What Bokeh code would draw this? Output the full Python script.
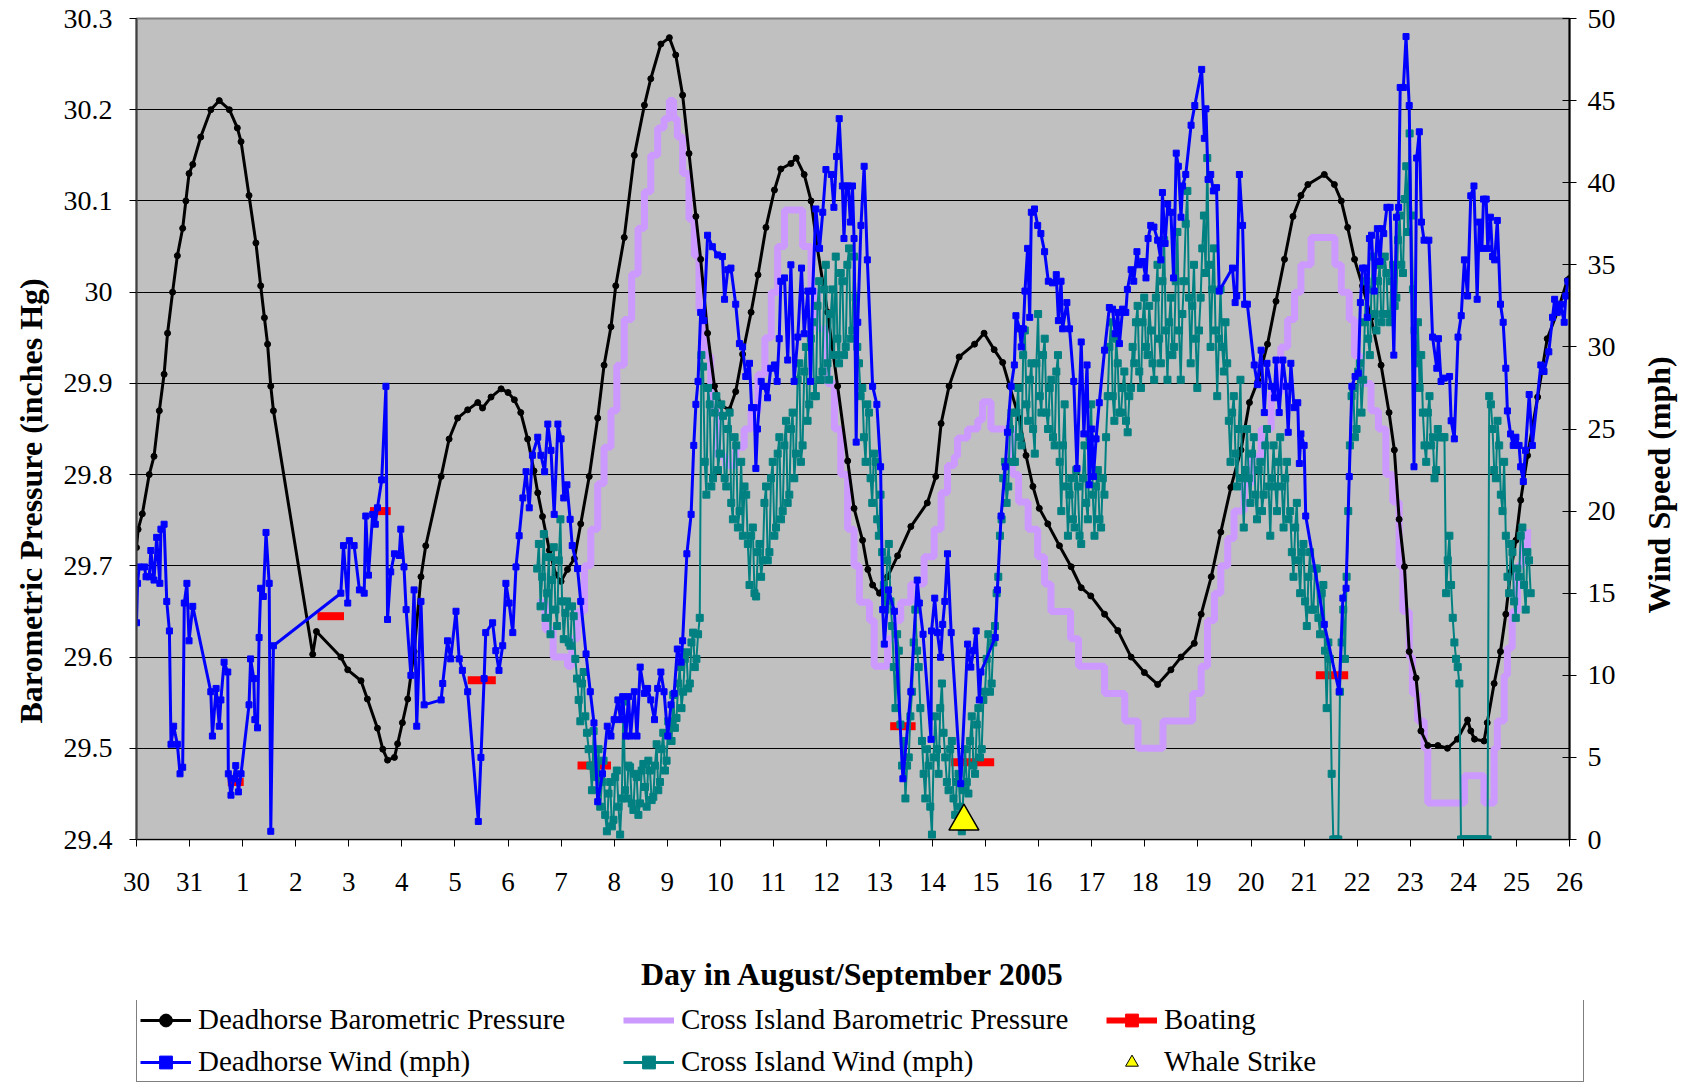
import math
from bokeh.plotting import figure
from bokeh.layouts import column, row
from bokeh.models import (Range1d, LinearAxis, FixedTicker, CustomJSTickFormatter,
                          Legend, LegendItem, Title)
from bokeh.embed import file_html
from bokeh.resources import INLINE

FONT = "Liberation Serif"

# ---------------- tick labels ----------------
day_labels = ["30", "31", "1", "2", "3", "4", "5", "6", "7", "8", "9", "10", "11", "12",
              "13", "14", "15", "16", "17", "18", "19", "20", "21", "22", "23", "24", "25", "26"]
pressure_ticks = [29.4, 29.5, 29.6, 29.7, 29.8, 29.9, 30.0, 30.1, 30.2, 30.3]
wind_ticks = [0, 5, 10, 15, 20, 25, 30, 35, 40, 45, 50]

# ---------------- Deadhorse barometric pressure (inches Hg) ----------------
dh_press_day = [0.00, 0.03, 0.11, 0.24, 0.33, 0.43, 0.52, 0.585, 0.68, 0.77, 0.87, 0.93, 0.99, 1.06,
                1.21, 1.40, 1.56, 1.75, 1.90, 1.97, 2.12, 2.25, 2.34, 2.41, 2.47, 2.53, 2.58, 3.32,
                3.39, 3.85, 3.98, 4.23, 4.35, 4.54, 4.64, 4.73, 4.86, 4.92, 5.01, 5.11, 5.23, 5.36,
                5.45, 5.74, 5.89, 6.05, 6.24, 6.43, 6.52, 6.68, 6.87, 7.00, 7.12, 7.24, 7.37, 7.49,
                7.56, 7.65, 7.78, 7.90, 8.00, 8.12, 8.25, 8.37, 8.53, 8.69, 8.81, 8.94, 9.03, 9.19,
                9.38, 9.57, 9.69, 9.88, 10.04, 10.16, 10.29, 10.41, 10.54, 10.63, 10.76, 10.89,
                11.01, 11.17, 11.29, 11.42, 11.58, 11.71, 11.86, 12.02, 12.14, 12.33, 12.43, 12.58,
                12.71, 12.83, 13.02, 13.21, 13.40, 13.52, 13.68, 13.78, 13.87, 14.00, 14.15, 14.34,
                14.59, 14.90, 15.06, 15.16, 15.31, 15.50, 15.79, 15.97, 16.16, 16.32, 16.45, 16.63,
                16.76, 16.89, 17.01, 17.17, 17.39, 17.61, 17.80, 17.98, 18.24, 18.49, 18.74, 18.99,
                19.24, 19.49, 19.68, 19.93, 20.06, 20.25, 20.43, 20.62, 20.81, 20.97, 21.13, 21.31,
                21.47, 21.63, 21.79, 21.94, 22.07, 22.38, 22.57, 22.70, 22.82, 22.95, 23.10, 23.26,
                23.45, 23.60, 23.70, 23.79, 23.89, 23.98, 24.11, 24.20, 24.33, 24.52, 24.70, 24.89,
                25.08, 25.14, 25.21, 25.39, 25.45, 25.58, 25.70, 25.80, 25.89, 25.99, 26.08, 26.21,
                26.40, 26.58, 26.77, 26.96, 27.00]
dh_press_inhg = [29.720, 29.740, 29.757, 29.800, 29.820, 29.870, 29.910, 29.955, 30.000, 30.040, 30.070,
                 30.100, 30.130, 30.140, 30.170, 30.200, 30.210, 30.200, 30.180, 30.165, 30.106, 30.054,
                 30.007, 29.972, 29.943, 29.897, 29.870, 29.603, 29.628, 29.600, 29.586, 29.574, 29.554,
                 29.522, 29.499, 29.487, 29.490, 29.505, 29.528, 29.554, 29.606, 29.688, 29.722, 29.798,
                 29.839, 29.862, 29.871, 29.879, 29.873, 29.885, 29.894, 29.890, 29.882, 29.868, 29.839,
                 29.804, 29.780, 29.754, 29.717, 29.690, 29.683, 29.696, 29.708, 29.746, 29.798, 29.862,
                 29.920, 29.962, 30.007, 30.060, 30.150, 30.205, 30.234, 30.272, 30.279, 30.260, 30.216,
                 30.152, 30.083, 30.036, 29.955, 29.897, 29.876, 29.871, 29.891, 29.932, 29.978, 30.019,
                 30.071, 30.112, 30.135, 30.141, 30.147, 30.129, 30.100, 30.048, 29.978, 29.897, 29.815,
                 29.763, 29.728, 29.696, 29.679, 29.670, 29.688, 29.711, 29.743, 29.769, 29.798, 29.856,
                 29.897, 29.929, 29.943, 29.955, 29.937, 29.923, 29.897, 29.862, 29.821, 29.787, 29.763,
                 29.746, 29.722, 29.699, 29.676, 29.667, 29.647, 29.629, 29.600, 29.583, 29.570, 29.586,
                 29.600, 29.615, 29.647, 29.688, 29.737, 29.786, 29.827, 29.879, 29.903, 29.943, 29.990,
                 30.036, 30.083, 30.106, 30.118, 30.129, 30.118, 30.100, 30.071, 30.036, 30.007, 29.972,
                 29.920, 29.868, 29.827, 29.751, 29.699, 29.606, 29.577, 29.519, 29.503, 29.503, 29.500,
                 29.510, 29.531, 29.519, 29.510, 29.508, 29.528, 29.571, 29.606, 29.647, 29.693, 29.728,
                 29.772, 29.821, 29.885, 29.949, 29.978, 30.013, 30.015]

# ---------------- Cross Island barometric pressure (inches Hg) ----------------
ci_press_day = [7.56, 7.70, 7.85, 8.12, 8.20, 8.31, 8.44, 8.56, 8.69, 8.81, 8.94, 9.05, 9.19, 9.33,
                9.45, 9.57, 9.69, 9.82, 9.94, 10.04, 10.12, 10.19, 10.29, 10.41, 10.51, 10.60, 10.70,
                10.82, 10.95, 11.10, 11.29, 11.45, 11.58, 11.71, 11.84, 11.96, 12.08, 12.21, 12.55,
                12.71, 12.83, 13.02, 13.15, 13.27, 13.40, 13.52, 13.62, 13.81, 13.90, 14.15, 14.28,
                14.40, 14.59, 14.84, 15.03, 15.16, 15.28, 15.41, 15.47, 15.66, 15.85, 15.94, 16.10,
                16.50, 16.62, 16.80, 16.98, 17.11, 17.23, 17.60, 17.75, 18.24, 18.62, 18.87, 19.34,
                19.90, 20.06, 20.18, 20.31, 20.43, 20.56, 20.68, 20.87, 21.00, 21.19, 21.38, 21.56,
                21.69, 21.82, 21.94, 22.13, 22.58, 22.70, 22.85, 22.95, 23.07, 23.26, 23.40, 23.54,
                23.67, 23.79, 23.86, 23.98, 24.04, 24.14, 24.26, 24.33, 25.02, 25.39, 25.58, 25.64,
                25.77, 25.83, 25.92, 26.02, 26.11, 26.21]
ci_press_inhg = [29.66, 29.63, 29.60, 29.59, 29.62, 29.65, 29.70, 29.74, 29.79, 29.83, 29.87, 29.92,
                 29.97, 30.02, 30.07, 30.11, 30.15, 30.18, 30.19, 30.21, 30.19, 30.17, 30.13, 30.08,
                 30.04, 29.98, 29.93, 29.87, 29.82, 29.81, 29.83, 29.85, 29.87, 29.91, 29.95, 30.00,
                 30.05, 30.09, 30.05, 30.00, 29.96, 29.90, 29.85, 29.80, 29.74, 29.70, 29.66, 29.64,
                 29.59, 29.62, 29.64, 29.66, 29.68, 29.71, 29.74, 29.78, 29.81, 29.82, 29.84, 29.85,
                 29.86, 29.88, 29.85, 29.80, 29.77, 29.74, 29.71, 29.68, 29.65, 29.62, 29.59, 29.56,
                 29.53, 29.50, 29.53, 29.56, 29.59, 29.64, 29.67, 29.70, 29.73, 29.76, 29.79, 29.82,
                 29.85, 29.89, 29.94, 29.97, 30.00, 30.03, 30.06, 30.03, 30.00, 29.97, 29.93, 29.90,
                 29.87, 29.85, 29.80, 29.77, 29.70, 29.65, 29.60, 29.56, 29.53, 29.50, 29.44, 29.47,
                 29.44, 29.50, 29.53, 29.58, 29.61, 29.65, 29.70, 29.72, 29.74]

# ---------------- Deadhorse wind (mph) ----------------
dh_wind_day = [0.00, 0.02, 0.05, 0.15, 0.18, 0.24, 0.27, 0.33, 0.38, 0.44, 0.46, 0.52, 0.57, 0.62,
               0.65, 0.70, 0.77, 0.82, 0.87, 0.90, 0.95, 0.99, 1.06, 1.40, 1.43, 1.50, 1.56, 1.59,
               1.65, 1.72, 1.73, 1.78, 1.83, 1.87, 1.92, 1.97, 2.12, 2.15, 2.21, 2.23, 2.28, 2.31,
               2.34, 2.39, 2.44, 2.50, 2.53, 2.58, 3.85, 3.90, 3.98, 4.01, 4.10, 4.20, 4.29, 4.32,
               4.37, 4.45, 4.50, 4.54, 4.62, 4.70, 4.73, 4.79, 4.86, 4.95, 4.98, 5.04, 5.08, 5.17,
               5.23, 5.28, 5.36, 5.42, 5.74, 5.77, 5.86, 5.92, 6.02, 6.08, 6.14, 6.24, 6.44, 6.49,
               6.55, 6.58, 6.71, 6.77, 6.83, 6.90, 6.96, 7.02, 7.09, 7.15, 7.21, 7.28, 7.34, 7.40,
               7.46, 7.56, 7.62, 7.69, 7.75, 7.81, 7.87, 7.94, 8.00, 8.05, 8.11, 8.17, 8.21, 8.31,
               8.37, 8.47, 8.55, 8.62, 8.69, 8.78, 8.87, 8.94, 9.00, 9.07, 9.12, 9.16, 9.22, 9.27,
               9.31, 9.38, 9.43, 9.49, 9.57, 9.63, 9.69, 9.76, 9.82, 9.88, 9.94, 10.01, 10.07, 10.13,
               10.19, 10.26, 10.29, 10.37, 10.45, 10.50, 10.54, 10.58, 10.63, 10.69, 10.76, 10.85,
               10.95, 11.04, 11.08, 11.14, 11.20, 11.29, 11.36, 11.42, 11.48, 11.55, 11.59, 11.64,
               11.67, 11.70, 11.77, 11.83, 11.89, 11.95, 12.02, 12.07, 12.11, 12.14, 12.21, 12.27,
               12.33, 12.39, 12.46, 12.53, 12.58, 12.65, 12.70, 12.74, 12.80, 12.87, 12.93, 12.99,
               13.09, 13.14, 13.19, 13.24, 13.30, 13.33, 13.37, 13.41, 13.45, 13.49, 13.52, 13.56,
               13.59, 13.65, 13.71, 13.77, 13.87, 13.95, 14.02, 14.06, 14.09, 14.17, 14.28, 14.44,
               14.59, 14.71, 14.75, 14.82, 14.97, 14.98, 15.04, 15.09, 15.15, 15.19, 15.23, 15.28,
               15.35, 15.53, 15.66, 15.72, 15.77, 15.82, 15.88, 15.91, 16.18, 16.22, 16.29, 16.37,
               16.41, 16.48, 16.54, 16.57, 16.64, 16.67, 16.71, 16.74, 16.79, 16.83, 16.86, 16.92,
               16.98, 17.04, 17.11, 17.18, 17.26, 17.33, 17.37, 17.42, 17.45, 17.53, 17.58, 17.66,
               17.72, 17.80, 17.85, 17.91, 17.95, 18.00, 18.03, 18.08, 18.14, 18.24, 18.33, 18.39,
               18.44, 18.49, 18.52, 18.58, 18.64, 18.67, 18.74, 18.79, 18.85, 18.89, 18.96, 19.02,
               19.06, 19.11, 19.17, 19.24, 19.30, 19.33, 19.38, 19.43, 19.49, 19.54, 19.59, 19.63,
               19.68, 19.71, 19.77, 19.87, 19.94, 20.07, 20.12, 20.15, 20.19, 20.24, 20.29, 20.35,
               20.40, 20.65, 20.70, 20.73, 20.78, 20.84, 20.88, 20.93, 21.06, 21.12, 21.19, 21.25,
               21.30, 21.38, 21.44, 21.47, 21.53, 21.60, 21.66, 21.70, 21.75, 21.81, 21.88, 21.91,
               21.94, 22.00, 22.03, 22.38, 22.66, 22.73, 22.79, 22.85, 22.90, 22.96, 23.02, 23.06,
               23.10, 23.15, 23.19, 23.23, 23.27, 23.32, 23.38, 23.43, 23.47, 23.50, 23.56, 23.62,
               23.69, 23.74, 23.78, 23.81, 23.87, 23.92, 23.98, 24.07, 24.12, 24.17, 24.21, 24.26,
               24.35, 24.42, 24.50, 24.53, 24.58, 24.64, 24.74, 24.77, 24.83, 24.90, 24.96, 25.02,
               25.08, 25.14, 25.20, 25.26, 25.30, 25.35, 25.38, 25.43, 25.46, 25.51, 25.55, 25.59,
               25.64, 25.70, 25.75, 25.80, 25.83, 25.89, 25.94, 25.99, 26.05, 26.08, 26.13, 26.17,
               26.24, 26.30, 26.46, 26.52, 26.61, 26.68, 26.72, 26.77, 26.83, 26.90, 26.93, 26.97]
dh_wind_mph = [13.2, 15.6, 16.6, 16.6, 16.0, 16.0, 17.6, 15.8, 18.4, 15.6, 18.9, 19.2, 14.5, 12.7,
               5.8, 6.9, 5.8, 4.0, 4.4, 14.4, 15.6, 12.1, 14.2, 9.0, 6.3, 9.2, 6.9, 8.5,
               10.8, 10.2, 4.0, 2.7, 3.7, 4.5, 2.9, 4.0, 8.2, 11.0, 9.8, 7.3, 6.8, 12.3,
               15.3, 14.8, 18.7, 15.6, 0.5, 11.8, 15.0, 17.9, 14.4, 18.2, 17.9, 15.2, 15.0, 19.7,
               16.1, 19.8, 19.2, 20.2, 21.9, 27.6, 13.4, 16.3, 17.4, 17.3, 18.9, 16.6, 14.0, 10.0,
               15.2, 6.9, 14.5, 8.2, 8.5, 9.5, 12.1, 11.0, 13.9, 11.0, 10.3, 9.0, 1.1, 5.0,
               9.8, 12.6, 13.2, 11.5, 10.3, 11.8, 15.6, 14.4, 12.6, 16.6, 18.5, 20.8, 22.4, 20.2,
               23.4, 24.5, 23.4, 22.4, 25.3, 23.7, 19.8, 25.3, 24.4, 20.8, 21.6, 19.5, 17.9, 16.5,
               14.5, 11.3, 9.0, 7.1, 2.3, 4.0, 6.9, 6.3, 7.3, 8.5, 7.3, 8.7, 6.3, 8.7,
               6.3, 9.0, 6.3, 10.5, 8.9, 9.2, 8.5, 7.3, 9.2, 10.2, 9.0, 6.3, 8.2, 8.9,
               11.6, 10.8, 12.1, 17.4, 19.8, 24.0, 26.5, 27.9, 32.1, 31.6, 36.8, 36.1,
               35.6, 35.5, 32.9, 34.7, 34.8, 32.6, 30.2, 30.0, 28.2, 29.0, 26.3, 26.3,
               22.6, 25.0, 27.9, 27.6, 26.9, 28.7, 28.9, 27.9, 30.5, 34.0, 34.2, 29.2,
               35.0, 27.9, 30.6, 34.8, 30.8, 33.4, 27.9, 33.4, 38.4, 36.0, 38.2, 40.8,
               40.5, 38.5, 41.6, 43.9, 39.8, 36.6, 39.8, 39.8, 37.6, 39.8, 36.6, 24.2,
               31.5, 37.4, 41.0, 35.3, 27.6, 26.5, 22.7, 14.0, 11.9, 15.2, 13.9, 3.7,
               9.0, 15.8, 14.4, 12.5, 6.1, 12.7, 14.7, 12.6, 11.1, 13.1, 14.5, 17.4,
               12.6, 3.4, 11.9, 10.5, 11.5, 12.7, 8.5, 10.2, 12.3, 15.2, 19.7, 22.7,
               24.8, 27.6, 28.9, 31.9, 31.1, 30.0, 31.1, 33.4, 36.0, 31.8, 38.2, 38.4,
               37.4, 36.9, 35.8, 34.0, 33.9, 34.4, 31.6, 34.0, 31.1, 32.7, 31.1, 27.9,
               22.6, 30.3, 24.7, 28.9, 21.6, 25.0, 22.1, 24.4, 26.6, 29.8, 32.4, 32.3,
               30.8, 32.1, 30.2, 32.3, 32.1, 33.5, 34.7, 34.0, 35.8, 35.0, 35.2, 34.2,
               36.6, 37.4, 37.3, 36.5, 35.3, 39.4, 36.3, 38.7, 38.2, 34.2, 41.8, 41.0,
               37.9, 39.8, 40.5, 43.5, 44.7, 46.9, 42.7, 44.5, 40.2, 40.5, 39.5, 39.7,
               33.4, 34.8, 32.7, 33.1, 40.5, 37.4, 32.6, 32.6, 28.9, 27.7, 29.8, 26.0,
               29.0, 27.6, 26.9, 29.2, 26.0, 29.2, 27.6, 24.8, 29.0, 26.3, 26.6, 22.9,
               24.7, 24.0, 19.7, 13.1, 9.0, 14.7, 15.3, 22.1, 27.6, 28.2, 28.4, 32.7,
               34.8, 34.8, 31.8, 36.6, 36.8, 33.4, 37.2, 35.2, 37.2, 36.9, 38.5, 38.5,
               29.5, 37.9, 38.5, 45.8, 45.8, 48.9, 44.7, 22.7, 41.5, 43.1, 37.6, 36.5,
               36.5, 30.6, 28.7, 30.5, 27.9, 28.1, 28.2, 25.5, 24.4, 30.6, 31.9, 35.3,
               33.1, 39.2, 39.8, 32.9, 37.6, 36.0, 39.0, 39.0, 36.0, 37.9, 35.5, 35.3,
               37.7, 32.6, 31.5, 28.7, 26.1, 24.7, 24.0, 24.5, 24.0, 22.7, 21.8, 23.7,
               27.1, 24.0, 28.9, 28.5, 29.7, 31.8, 32.9, 32.1, 32.6, 31.5, 33.1, 34.0]

# ---------------- Cross Island wind (mph), one reading every 45 min ----------------
ci_wind_start_day = 7.55
ci_wind_step_day = 0.03125
ci_wind_mph = [
    16.5, 18.0, 14.2, 16.0, 18.6, 13.5, 15.0, 17.2, 12.5, 15.8, 17.8, 14.0, 13.0, 17.0, 19.5, 14.5,
    12.2, 13.8, 14.5, 12.0, 11.8, 14.2, 13.6, 11.0, 9.8, 8.5, 7.2, 9.5, 10.2, 7.5, 6.5, 5.5,
    4.5, 3.0, 6.6, 4.2, 3.8, 5.5, 2.0, 3.5, 4.8, 1.5, 0.5, 2.8, 3.5, 0.8, 1.2, 3.8,
    4.2, 2.0, 0.3, 2.5, 8.4, 3.0, 2.5, 4.5, 4.4, 2.2, 1.8, 4.0, 3.8, 1.5, 2.2, 4.2,
    4.6, 3.2, 2.0, 4.8, 4.2, 2.4, 2.6, 4.5, 5.8, 3.0, 3.5, 5.5, 6.5, 4.2, 4.8, 7.2,
    7.0, 6.0, 8.8, 6.8, 7.4, 9.5, 10.5, 8.0, 9.0, 11.0, 11.4, 9.2, 9.5, 12.0, 12.6, 10.5,
    11.0, 12.5, 13.5, 29.5, 28.8, 23.0, 21.0, 27.5, 26.5, 21.5, 22.0, 26.0, 27.0, 22.5, 23.5, 26.5,
    25.8, 22.0, 21.5, 25.0, 26.0, 20.5, 19.5, 24.5, 24.0, 19.0, 20.0, 23.0, 18.5, 21.5, 21.0, 18.0,
    15.5, 18.5, 19.0, 15.0, 14.8, 17.5, 18.0, 16.0, 17.0, 20.5, 21.5, 17.0, 17.5, 22.0, 23.0, 18.5,
    19.0, 23.5, 24.5, 19.5, 20.0, 24.0, 25.5, 20.5, 21.0, 25.0, 26.0, 22.0, 23.5, 28.0, 29.0, 23.0,
    24.0, 28.5, 30.0, 25.5, 26.5, 30.5, 31.5, 27.0, 27.0, 32.5, 34.0, 28.0, 28.5, 33.5, 35.0, 29.0,
    28.0, 32.0, 33.5, 29.5, 35.5, 30.5, 29.0, 34.5, 34.0, 29.5, 30.0, 35.0, 36.0, 30.5, 31.0, 35.5,
    33.0, 30.0, 29.0, 27.0, 27.5, 24.5, 23.0, 26.5, 26.0, 22.0, 20.5, 23.5, 23.0, 19.5, 18.5, 21.0,
    17.5, 15.5, 14.0, 17.0, 18.0, 14.5, 13.0, 10.5, 8.0, 12.5, 11.5, 7.0, 4.5, 6.0, 2.5, 4.5,
    5.0, 7.5, 9.0, 12.0, 14.0, 11.5, 10.5, 8.0, 6.0, 4.0, 2.5, 5.5, 4.5, 2.0, 0.3, 5.0,
    7.5, 5.5, 4.0, 8.0, 9.5, 6.5, 5.0, 3.5, 3.0, 5.5, 6.0, 2.5, 1.5, 3.5, 4.0, 2.0,
    0.5, 3.0, 5.5, 3.5, 2.8, 6.0, 7.5, 4.5, 4.0, 7.0, 8.0, 5.0, 5.5, 8.5, 9.0, 11.0,
    12.5, 9.0, 9.5, 12.0, 13.0, 15.0, 16.0, 18.5, 19.5, 22.0, 23.0, 20.5, 21.5, 25.0, 26.0, 23.0,
    23.0, 26.0, 27.5, 24.5, 24.0, 29.5, 31.0, 26.5, 25.5, 28.0, 29.0, 25.0, 23.5, 29.0, 32.0, 27.0,
    26.0, 29.5, 30.5, 26.0, 25.0, 27.5, 28.0, 24.5, 24.0, 28.5, 29.5, 23.0, 20.0, 24.0, 26.5, 21.5,
    18.5, 21.0, 22.0, 19.5, 19.0, 22.5, 21.5, 18.5, 18.0, 22.0, 24.0, 20.5, 19.5, 24.5, 26.5, 21.0,
    18.5, 21.5, 22.5, 19.5, 19.0, 22.0, 21.0, 24.5, 27.0, 30.0, 31.5, 27.0, 25.5, 30.5, 29.0, 26.0,
    26.0, 27.5, 28.5, 25.5, 24.8, 27.0, 27.5, 30.0, 29.0, 31.5, 32.5, 28.5, 27.5, 31.5, 33.0, 30.0,
    29.5, 32.5, 31.0, 29.0, 28.0, 33.0, 35.0, 30.5, 29.0, 34.0, 36.5, 31.0, 28.0, 31.5, 33.0, 29.5,
    30.0, 34.0, 37.0, 31.0, 28.0, 32.0, 34.0, 37.5, 39.5, 33.0, 29.0, 32.5, 35.0, 30.5, 27.5, 31.0,
    33.0, 36.0, 38.0, 34.5, 41.5, 35.0, 30.0, 33.5, 36.0, 31.0, 27.0, 30.5, 33.5, 30.0, 28.5, 31.5,
    29.0, 25.5, 23.0, 26.0, 27.0, 23.5, 21.5, 25.0, 28.0, 22.0, 19.0, 22.5, 25.0, 22.0, 20.5, 23.5,
    24.5, 21.0, 19.5, 22.5, 23.0, 20.0, 21.0, 24.0, 25.0, 21.5, 18.5, 22.0, 24.0, 21.5, 20.0, 23.0,
    24.5, 21.5, 19.0, 22.0, 23.0, 19.5, 20.0, 17.5, 16.0, 19.0, 20.5, 17.0, 15.0, 17.5, 18.0, 14.5,
    13.0, 16.0, 17.5, 14.0, 14.0, 16.5, 16.5, 13.5, 12.5, 15.0, 15.5, 11.5, 8.0, 12.0, 11.0, 4.0,
    0.0, 0.0, 0.0, 0.0, 9.0, 12.0, 14.0, 11.0, 16.0, 20.0, 24.0, 27.0, 27.5, 24.5, 25.0, 28.5,
    29.0, 26.0, 28.0, 31.5, 34.0, 30.5, 29.5, 33.5, 35.5, 32.0, 31.0, 34.0, 35.0, 31.5, 32.0, 35.5,
    34.5, 32.0, 31.5, 34.0, 35.0, 32.5, 33.0, 36.5, 38.0, 35.0, 34.5, 39.0, 41.0, 37.0, 43.0, 38.0,
    33.5, 31.0, 29.0, 31.5, 27.5, 29.5, 26.0, 24.0, 23.0, 26.0, 27.0, 24.0, 24.5, 22.0, 22.5, 25.0,
    24.5, 24.5, 24.5, 24.5, 15.0, 17.0, 18.5, 15.5, 13.5, 12.0, 11.0, 10.5, 9.5, 0.0, 0.0, 0.0,
    0.0, 0.0, 0.0, 0.0, 0.0, 0.0, 0.0, 0.0, 0.0, 0.0, 0.0, 0.0, 0.0, 0.0, 27.0, 26.5,
    25.0, 22.5, 22.0, 25.5, 24.0, 21.0, 20.0, 23.0, 18.5, 16.0, 15.0, 18.0, 17.5, 14.5, 13.5, 16.5,
    16.0, 18.5, 19.0, 15.5, 14.0, 17.5, 17.0, 15.0]
ci_wind_day = [ci_wind_start_day + i * ci_wind_step_day for i in range(len(ci_wind_mph))]

# ---------------- Boating periods (plotted at Deadhorse wind, mph) ----------------
boat_start_day = [1.72, 3.41, 4.40, 6.24, 8.31, 14.20, 15.35, 22.22]
boat_end_day = [2.02, 3.91, 4.79, 6.77, 8.94, 14.68, 16.16, 22.83]
boat_mph = [3.5, 13.6, 20.0, 9.7, 4.5, 6.9, 4.7, 10.0]

# ---------------- Whale strike ----------------
whale_day = [15.59]
whale_mph = [1.1]

# colours
C_BLACK = "#000000"
C_LAV = "#CC99FF"
C_RED = "#FF0000"
C_BLUE = "#0000FF"
C_TEAL = "#008080"
C_BG = "#C0C0C0"

MAIN_W = 1635
p = figure(width=MAIN_W, height=1000, output_backend="svg", toolbar_location=None,
           x_range=Range1d(0, 27), y_range=Range1d(29.4, 30.3),
           min_border_left=136, min_border_right=MAIN_W - 1569, min_border_top=18,
           min_border_bottom=161)
p.extra_y_ranges = {"wind": Range1d(0, 50)}
p.background_fill_color = C_BG
p.border_fill_color = "white"
p.outline_line_color = "#808080"
p.outline_line_width = 2

p.xgrid.visible = False
p.ygrid.ticker = FixedTicker(ticks=pressure_ticks)
p.ygrid.grid_line_color = "black"
p.ygrid.grid_line_width = 1

# left axis
ya = p.yaxis[0]
ya.ticker = FixedTicker(ticks=pressure_ticks)
ya.formatter = CustomJSTickFormatter(code="return (Math.round(tick*10)/10).toString();")
ya.major_label_text_font = FONT
ya.major_label_text_font_size = "28px"
ya.major_label_text_color = "black"
ya.major_label_standoff = 17
ya.major_tick_out = 7
ya.major_tick_in = 0
ya.minor_tick_out = 0
ya.minor_tick_in = 0
ya.axis_line_color = "#404040"
ya.axis_line_width = 2
ya.major_tick_line_color = "black"

# left title (side panel, offset from the bottom of the plot area as in the original)
p.add_layout(Title(text="Barometric Pressure (inches Hg)", align="left", offset=116,
                   vertical_align="middle", standoff=21, text_font=FONT,
                   text_font_size="32px", text_font_style="bold", text_color="black"), "left")

# bottom axis
xa = p.xaxis[0]
xa.ticker = FixedTicker(ticks=list(range(len(day_labels))))
xa.major_label_overrides = {i: lab for i, lab in enumerate(day_labels)}
xa.axis_label = "Day in August/September 2005"
xa.axis_label_text_font = FONT
xa.axis_label_text_font_style = "bold"
xa.axis_label_text_font_size = "32px"
xa.axis_label_text_color = "black"
xa.axis_label_standoff = 62
xa.major_label_text_font = FONT
xa.major_label_text_font_size = "27px"
xa.major_label_text_color = "black"
xa.major_label_standoff = 26
xa.major_tick_out = 7
xa.major_tick_in = 0
xa.minor_tick_out = 0
xa.minor_tick_in = 0
xa.axis_line_color = "black"
xa.axis_line_width = 1

# right axis
ra = LinearAxis(y_range_name="wind", ticker=FixedTicker(ticks=wind_ticks))
ra.major_label_text_font = FONT
ra.major_label_text_font_size = "28px"
ra.major_label_text_color = "black"
ra.major_label_standoff = 11
ra.major_tick_out = 7
ra.major_tick_in = 7
ra.minor_tick_out = 0
ra.minor_tick_in = 0
ra.axis_line_color = "black"
ra.axis_line_width = 2
p.add_layout(ra, "right")

# series (drawing order)
p.step(ci_press_day, ci_press_inhg, mode="after", line_width=7, color=C_LAV)
p.line(dh_press_day, dh_press_inhg, line_width=3, color=C_BLACK)
p.scatter(dh_press_day, dh_press_inhg, marker="circle", size=6, color=C_BLACK)
p.segment(x0=boat_start_day, y0=boat_mph, x1=boat_end_day, y1=boat_mph,
          line_width=8, color=C_RED, y_range_name="wind")
p.line(ci_wind_day, ci_wind_mph, line_width=2, color=C_TEAL, y_range_name="wind")
p.scatter(ci_wind_day, ci_wind_mph, marker="square", size=7, color=C_TEAL, y_range_name="wind")
p.line(dh_wind_day, dh_wind_mph, line_width=3, color=C_BLUE, y_range_name="wind")
p.scatter(dh_wind_day, dh_wind_mph, marker="square", size=6, color=C_BLUE, y_range_name="wind")
p.scatter(whale_day, whale_mph, marker="triangle", size=30, fill_color="#FFFF00",
          line_color="black", line_width=1.5, y_range_name="wind")

# ---------------- right-hand title strip (title reads bottom-to-top) ----------------
rt = figure(width=1687 - MAIN_W, height=1000, output_backend="svg", toolbar_location=None,
            x_range=Range1d(0, 1), y_range=Range1d(0, 1), x_axis_type=None, y_axis_type=None,
            min_border_left=0, min_border_right=0, min_border_top=18, min_border_bottom=161,
            outline_line_color=None)
rt.grid.visible = False
rt.add_layout(Title(text="Wind Speed (mph)", align="left", offset=226, vertical_align="middle",
                    standoff=9, text_font=FONT, text_font_size="32px", text_font_style="bold",
                    text_color="black"), "left")

# ---------------- legend strip ----------------
lf = figure(width=1687, height=83, output_backend="svg", toolbar_location=None,
            x_range=Range1d(0, 1), y_range=Range1d(0, 1), x_axis_type=None, y_axis_type=None,
            min_border_left=136, min_border_right=90, min_border_top=0, min_border_bottom=0,
            outline_line_color=None)
lf.grid.visible = False
hx = [-5, -4]   # legend swatch renderers, placed outside the strip's visible range
hy = [-5, -5]
g_dp_l = lf.line(hx, hy, line_width=3, color=C_BLACK)
g_dp_m = lf.scatter(hx, hy, marker="circle", size=6, color=C_BLACK)
g_dw_l = lf.line(hx, hy, line_width=3, color=C_BLUE)
g_dw_m = lf.scatter(hx, hy, marker="square", size=6, color=C_BLUE)
g_cp_l = lf.line(hx, hy, line_width=6, color=C_LAV)
g_cw_l = lf.line(hx, hy, line_width=3, color=C_TEAL)
g_cw_m = lf.scatter(hx, hy, marker="square", size=6, color=C_TEAL)
g_b_l = lf.line(hx, hy, line_width=6, color=C_RED)
g_b_m = lf.scatter(hx, hy, marker="square", size=6, color=C_RED)
g_w = lf.scatter(hx, hy, marker="triangle", size=16, fill_color="#FFFF00", line_color="black")

legend = Legend(items=[
    LegendItem(label="Deadhorse Barometric Pressure", renderers=[g_dp_l, g_dp_m]),
    LegendItem(label="Deadhorse Wind (mph)", renderers=[g_dw_l, g_dw_m]),
    LegendItem(label="Cross Island Barometric Pressure", renderers=[g_cp_l]),
    LegendItem(label="Cross Island Wind (mph)", renderers=[g_cw_l, g_cw_m]),
    LegendItem(label="Boating", renderers=[g_b_l, g_b_m]),
    LegendItem(label="Whale Strike", renderers=[g_w]),
], location=(0, 1), orientation="vertical", nrows=2, margin=0, padding=3, spacing=9,
    glyph_width=51, glyph_height=32, label_height=32, label_width=416, label_standoff=7,
    label_text_font=FONT, label_text_font_size="29px", label_text_color="black",
    border_line_color="black", border_line_width=1.5, background_fill_color="white")
lf.add_layout(legend, "center")

layout = column(row(p, rt, spacing=0), lf, spacing=0)
open("out.html", "w").write(file_html(layout, INLINE))
